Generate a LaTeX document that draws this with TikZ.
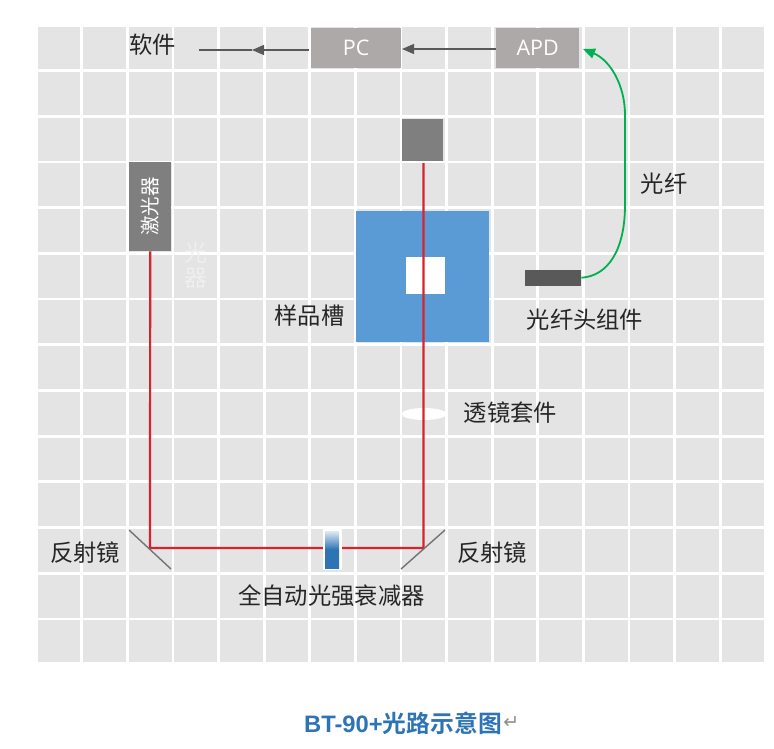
\documentclass[tikz,border=0pt]{standalone}
\usepackage{fontspec}
\setmainfont{Noto Sans CJK SC}
\newfontfamily\latinfont{Open Sans}
\newfontfamily\titlefont{Liberation Sans}[BoldFont={Liberation Sans Bold}]
\newfontfamily\titlecjk{Noto Sans CJK SC}[BoldFont={Noto Sans CJK SC Bold}]
\newfontfamily\symfont{DejaVu Sans}
\usetikzlibrary{arrows.meta,positioning,shapes.geometric}
\definecolor{cellgray}{HTML}{E4E4E4}
\definecolor{boxgray}{HTML}{ADA9A8}
\definecolor{darkgray}{HTML}{7F7F7F}
\definecolor{headgray}{HTML}{595959}
\definecolor{cellblue}{HTML}{5B9BD5}
\definecolor{beamred}{HTML}{D8232A}
\definecolor{fibregreen}{HTML}{00B050}
\definecolor{titleblue}{HTML}{2E74B5}
\tikzset{
  box/.style={fill=#1,inner sep=0pt,anchor=north west},
  label/.style={font=\fontsize{23.3}{26}\selectfont,text=black!85,inner sep=0pt},
  sig/.style={draw=headgray,line width=1.3pt,-{Triangle[length=12pt,width=10pt]}},
  beam/.style={draw=beamred,line width=2.2pt,line join=round},
  mirror/.style={draw=black!55,line width=1.4pt}
}
\begin{document}
\begin{tikzpicture}[x=1pt,y=-1pt]
  \useasboundingbox (0,0) rectangle (774,748);
  % grid
  \fill [cellgray] (38,27) rectangle (764,662);
  \foreach \i in {0,...,14}
    \draw [white,line width=2.8pt] (81.7+45.6*\i,27)--(81.7+45.6*\i,662);
  \foreach \i in {0,...,12}
    \draw [white,line width=2.8pt] (38,70.5+45.7*\i)--(764,70.5+45.7*\i);
  % boxes
  \node [box=boxgray,minimum width=90pt,minimum height=40pt,text=white,font=\latinfont\fontsize{21.5}{24}\selectfont] (pc) at (311,27.5) {PC};
  \node [box=boxgray,minimum width=83pt,minimum height=40pt,text=white,font=\latinfont\fontsize{21.5}{24}\selectfont] (apd) at (496,27.5) {APD};
  \node [box=darkgray,minimum width=41pt,minimum height=42pt] (detector) at (402,119) {};
  \node [box=darkgray,minimum width=42pt,minimum height=89pt] (laser) at (129,162) {};
  \node [text=white,inner sep=0pt,rotate=90,font=\fontsize{19.5}{22}\selectfont] (lasertext) at (laser.center) {激光器};
  \node [box=cellblue,minimum width=133pt,minimum height=131pt] (sample) at (356,210.5) {};
  \node [box=white,minimum width=39pt,minimum height=37pt] (window) at (406,257) {};
  \node [box=headgray,minimum width=56pt,minimum height=16pt] (fibrehead) at (525,269.5) {};
  \node [fill=white,ellipse,inner sep=0pt,minimum width=45pt,minimum height=12pt] (lens) at (424,414) {};
  \node [text=white!40!cellgray,inner sep=0pt,align=center,font=\fontsize{23}{25}\selectfont] (ghost) at (196,265) {光\\器};
  % mirrors
  \coordinate (detectorin) at (423.5,163);
  \coordinate (mirrorL) at (150,548);
  \coordinate (mirrorR) at (423.5,548);
  \coordinate (mirrorLa) at (129,530);
  \coordinate (mirrorLb) at (171,569);
  \coordinate (mirrorRa) at (445,530);
  \coordinate (mirrorRb) at (401,569);
  % beam
  \draw [beam] (laser.south)--(mirrorL)--(mirrorR)--(detectorin);
  \draw [mirror] (mirrorLa)--(mirrorLb);
  \draw [mirror] (mirrorRa)--(mirrorRb);
  % attenuator
  \node [fill=white,inner sep=0pt,minimum width=19pt,minimum height=41pt] (attframe) at (332,549.5) {};
  \shade [top color=white!85!titleblue,bottom color=titleblue,middle color=titleblue] (325,531) rectangle (339,568);
  % labels
  \node [label] (software) at (152.5,45) {软件};
  \node [label] (samplelabel) at (309.5,316) {样品槽};
  \node [label] (fibrelabel) at (664,184) {光纤};
  \node [label] (headlabel) at (585,320) {光纤头组件};
  \node [label] (lenslabel) at (510.5,413) {透镜套件};
  \node [label] (mirrorlabelL) at (85,553) {反射镜};
  \node [label] (mirrorlabelR) at (492,553) {反射镜};
  \node [label] (attlabel) at (331.5,596) {全自动光强衰减器};
  % connectors
  \coordinate (softin) at (199,50);
  \coordinate (softmid) at (252,50);
  \coordinate (apdin) at (583,49);
  \coordinate (pcout) at (309,50);
  \coordinate (pcin) at (402,49);
  \coordinate (apdout) at (496,49);
  \draw [sig] (pcout)--(softmid);
  \draw [draw=headgray,line width=1.3pt] (softmid)--(softin);
  \draw [sig] (apdout)--(pcin);
  \draw [draw=fibregreen,line width=1.8pt,-{Triangle[length=12pt,width=10pt]}] (fibrehead.east) .. controls (608,276) and (625,250) .. (625,205) -- (625,115) .. controls (625,85) and (610,60) .. (apdin);
  % title
  \node [inner sep=0pt,text=titleblue,font=\bfseries\fontsize{23.8}{28}\selectfont] (title) at (403,723) {\titlefont\bfseries BT-90+\titlecjk\bfseries 光路示意图};
  \node [right=1pt of title,inner sep=0pt,text=black!45,font=\symfont\fontsize{19}{22}\selectfont] (returnmark) {↵};
\end{tikzpicture}
\end{document}
